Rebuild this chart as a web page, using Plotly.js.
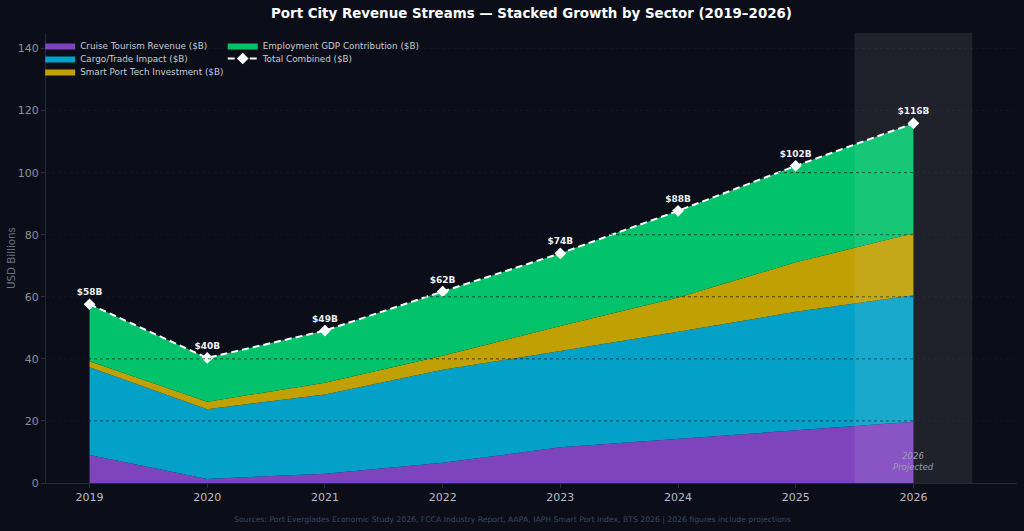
<!DOCTYPE html>
<html>
<head>
<meta charset="utf-8">
<script src="https://cdn.plot.ly/plotly-3.0.1.min.js"></script>
<style>
  html, body { margin: 0; padding: 0; background: #0b0e18; }
  #chart { width: 1024px; height: 531px; }
</style>
</head>
<body>
<div id="chart"></div>
<script>
// ---- data ----
const years = [2019, 2020, 2021, 2022, 2023, 2024, 2025, 2026];
const cruiseTourism = [9.0, 1.3, 3.0, 6.5, 11.5, 14.2, 17.1, 19.7];
const cargoTrade = [28.3, 22.5, 25.5, 30.0, 31.0, 34.5, 38.1, 40.8];
const smartPortTech = [1.9, 2.4, 3.8, 4.5, 8.1, 11.1, 15.9, 20.0];
const employmentGDP = [18.4, 14.1, 16.8, 20.7, 23.4, 27.9, 31.1, 35.4];
const gridValues = [20, 40, 60, 80, 100, 120, 140];
const sourceNote = "Sources: Port Everglades Economic Study 2026, FCCA Industry Report, AAPA, IAPH Smart Port Index, BTS 2026 | 2026 figures include projections";

const totals = years.map((_, i) => cruiseTourism[i] + cargoTrade[i] + smartPortTech[i] + employmentGDP[i]);
const totalLabels = totals.map(v => "$" + Math.round(v) + "B");

const FONT = "DejaVu Sans, Verdana, sans-serif";

function area(name, vals, color, legend) {
  return {
    x: years, y: vals, name: name, type: "scatter", mode: "lines",
    stackgroup: "one", fillcolor: color, line: {width: 0, color: color},
    hoverinfo: "skip", legend: legend
  };
}

const traces = [
  area("Cruise Tourism Revenue ($B)", cruiseTourism, "#7e44be", "legend"),
  area("Cargo/Trade Impact ($B)", cargoTrade, "#03a1c8", "legend2"),
  area("Smart Port Tech Investment ($B)", smartPortTech, "#c0a003", "legend3"),
  area("Employment GDP Contribution ($B)", employmentGDP, "#02c26b", "legend4"),
  {
    x: years, y: totals, name: "Total Combined ($B)", type: "scatter",
    mode: "lines+markers+text", text: totalLabels, textposition: "top center",
    textfont: {family: FONT, size: 9, color: "#eef0f4", weight: "bold"},
    line: {color: "#ffffff", width: 2, dash: "7px,4px"},
    marker: {symbol: "diamond", size: 9, color: "#ffffff"},
    hoverinfo: "skip", legend: "legend5", cliponaxis: false
  }
];

const shapes = gridValues.map(v => ({
  type: "line", xref: "paper", x0: 0, x1: 1, yref: "y", y0: v, y1: v,
  line: {color: "rgba(20,26,40,0.75)", width: 1, dash: "dot"}, layer: "above"
}));
shapes.push({
  type: "rect", xref: "x", x0: 2025.5, x1: 2026.5, yref: "paper", y0: 0, y1: 1,
  fillcolor: "rgba(255,255,255,0.085)", line: {width: 0}, layer: "above"
});

function leg(x, y) {
  return {
    bgcolor: "rgba(0,0,0,0)", borderwidth: 0,
    font: {family: FONT, size: 8.8, color: "#c8ccd4"},
    xanchor: "left", yanchor: "top", orientation: "v", tracegroupgap: 0,
    traceorder: "normal", itemwidth: 30, x: x, y: y
  };
}
const col1 = -0.006, col2 = 0.182;
const row1 = 1.0044, row2 = 0.9756, row3 = 0.9467;

const layout = {
  width: 1024, height: 531,
  paper_bgcolor: "#0b0e18", plot_bgcolor: "#0b0e18",
  margin: {l: 46, r: 7, t: 33, b: 48},
  title: {
    text: "<b>Port City Revenue Streams — Stacked Growth by Sector (2019–2026)</b>",
    font: {family: FONT, size: 13.4, color: "#ffffff"},
    x: 0.5, xref: "paper", xanchor: "center", y: 0.975, yref: "container", yanchor: "middle"
  },
  showlegend: true,
  legend: leg(col1, row1),
  legend2: leg(col1, row2),
  legend3: leg(col1, row3),
  legend4: leg(col2, row1),
  legend5: leg(col2, row2),
  xaxis: {
    range: [2018.63, 2026.88], tickmode: "array", tickvals: years,
    ticktext: years.map(String), showgrid: false, zeroline: false,
    showline: true, linecolor: "#232a3a", linewidth: 1,
    ticks: "outside", ticklen: 4, tickcolor: "#2a3242",
    tickfont: {family: FONT, size: 11, color: "#b8bcc6"}
  },
  yaxis: {
    range: [0, 145], tickmode: "array", tickvals: [0, 20, 40, 60, 80, 100, 120, 140],
    showgrid: false, zeroline: false,
    showline: true, linecolor: "#232a3a", linewidth: 1,
    ticks: "outside", ticklen: 4, tickcolor: "#2a3242",
    tickfont: {family: FONT, size: 11, color: "#8a919e"}
  },
  shapes: shapes,
  annotations: [
    {
      x: -0.036, y: 0.5, xref: "paper", yref: "paper", text: "USD Billions", textangle: -90,
      showarrow: false, font: {family: FONT, size: 10.3, color: "#6a7384"},
      xanchor: "center", yanchor: "middle"
    },
    {
      x: 2026, y: 7, xref: "x", yref: "y", text: "<i>2026<br>Projected</i>",
      showarrow: false, font: {family: FONT, size: 8.5, color: "#9a9fb0"},
      xanchor: "center", yanchor: "middle", align: "center"
    },
    {
      x: 0.48, y: -0.08, xref: "paper", yref: "paper", text: sourceNote,
      showarrow: false, font: {family: FONT, size: 7.7, color: "#3d4862"},
      xanchor: "center", yanchor: "middle"
    }
  ]
};

Plotly.newPlot("chart", traces, layout, {staticPlot: true, displayModeBar: false});
</script>
</body>
</html>
